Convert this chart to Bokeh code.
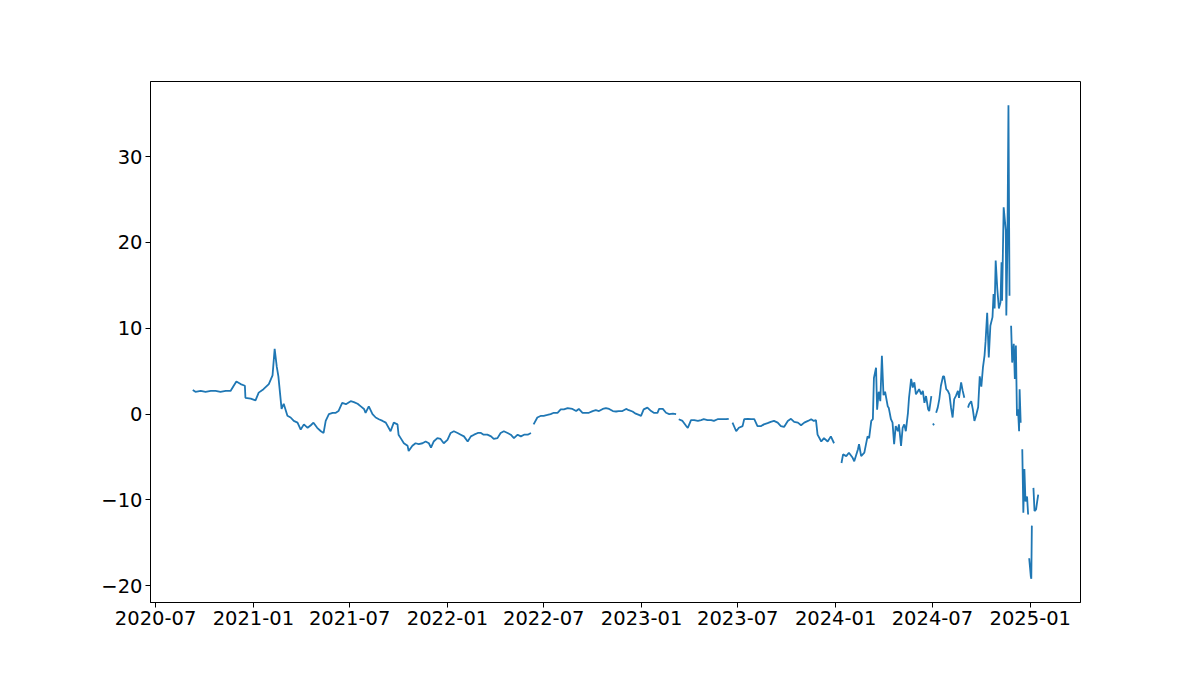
import numpy as np
import pandas as pd
from bokeh.plotting import figure
from bokeh.models import ColumnDataSource, FixedTicker, DatetimeTickFormatter, Range1d
from bokeh.embed import file_html
from bokeh.resources import INLINE

# ---- data (None = missing day, line gap) ----
dates = [
    "2020-09-09", "2020-09-14", "2020-09-24", "2020-10-03", "2020-10-13", "2020-10-22",
    "2020-10-31", "2020-11-10", "2020-11-19", "2020-11-25", "2020-11-30", "2020-12-08",
    "2020-12-16", "2020-12-17", "2020-12-27", "2021-01-05", "2021-01-11", "2021-01-20",
    "2021-01-30", "2021-02-06", "2021-02-10", "2021-02-14", "2021-02-17", "2021-02-23",
    "2021-02-27", "2021-03-06", "2021-03-12", "2021-03-18", "2021-03-25", "2021-03-31",
    "2021-04-06", "2021-04-13", "2021-04-19", "2021-04-24", "2021-05-01", "2021-05-08",
    "2021-05-13", "2021-05-17", "2021-05-23", "2021-05-30", "2021-06-05", "2021-06-10",
    "2021-06-17", "2021-06-24", "2021-07-03", "2021-07-09", "2021-07-16", "2021-07-22",
    "2021-07-28", "2021-07-31", "2021-08-06", "2021-08-13", "2021-08-19", "2021-08-25",
    "2021-09-01", "2021-09-07", "2021-09-16", "2021-09-22", "2021-09-29", "2021-10-01",
    "2021-10-05", "2021-10-11", "2021-10-18", "2021-10-20", "2021-10-27", "2021-11-02",
    "2021-11-08", "2021-11-15", "2021-11-21", "2021-11-27", "2021-12-01", "2021-12-06",
    "2021-12-13", "2021-12-19", "2021-12-25", "2022-01-01", "2022-01-07", "2022-01-13",
    "2022-01-20", "2022-01-26", "2022-02-01", "2022-02-08", "2022-02-14", "2022-02-20",
    "2022-02-27", "2022-03-05", "2022-03-10", "2022-03-17", "2022-03-24", "2022-03-29",
    "2022-04-05", "2022-04-11", "2022-04-17", "2022-04-24", "2022-04-30", "2022-05-06",
    "2022-05-13", "2022-05-19", "2022-05-25", "2022-06-01", "2022-06-07", "2022-06-09",
    "2022-06-12", "2022-06-19", "2022-06-26", "2022-07-01", "2022-07-08", "2022-07-14",
    "2022-07-20", "2022-07-27", "2022-08-02", "2022-08-08", "2022-08-15", "2022-08-24",
    "2022-08-31", "2022-09-05", "2022-09-12", "2022-09-18", "2022-09-24", "2022-10-01",
    "2022-10-07", "2022-10-13", "2022-10-20", "2022-10-26", "2022-11-01", "2022-11-08",
    "2022-11-14", "2022-11-19", "2022-11-26", "2022-12-03", "2022-12-08", "2022-12-15",
    "2022-12-21", "2022-12-27", "2022-12-31", "2023-01-05", "2023-01-12", "2023-01-19",
    "2023-01-24", "2023-01-31", "2023-02-03", "2023-02-10", "2023-02-16", "2023-02-22",
    "2023-03-01", "2023-03-07", "2023-03-09", "2023-03-12", "2023-03-19", "2023-03-26",
    "2023-03-29", "2023-04-04", "2023-04-10", "2023-04-17", "2023-04-23", "2023-04-28",
    "2023-05-05", "2023-05-12", "2023-05-17", "2023-05-24", "2023-06-03", "2023-06-09",
    "2023-06-14", "2023-06-17", "2023-06-21", "2023-06-28", "2023-07-03", "2023-07-10",
    "2023-07-13", "2023-07-20", "2023-07-26", "2023-08-01", "2023-08-07", "2023-08-14",
    "2023-08-19", "2023-08-26", "2023-09-01", "2023-09-07", "2023-09-14", "2023-09-20",
    "2023-09-26", "2023-10-03", "2023-10-09", "2023-10-15", "2023-10-22", "2023-10-28",
    "2023-11-03", "2023-11-10", "2023-11-16", "2023-11-21", "2023-11-25", "2023-11-28",
    "2023-12-05", "2023-12-10", "2023-12-17", "2023-12-23", "2023-12-29", "2024-01-04",
    "2024-01-12", "2024-01-15", "2024-01-21", "2024-01-26", "2024-02-02", "2024-02-05",
    "2024-02-12", "2024-02-14", "2024-02-18", "2024-02-24", "2024-03-01", "2024-03-04",
    "2024-03-08", "2024-03-11", "2024-03-13", "2024-03-17", "2024-03-19", "2024-03-22",
    "2024-03-25", "2024-03-28", "2024-03-31", "2024-04-03", "2024-04-08", "2024-04-10",
    "2024-04-14", "2024-04-17", "2024-04-20", "2024-04-23", "2024-04-27", "2024-04-29",
    "2024-05-03", "2024-05-06", "2024-05-09", "2024-05-12", "2024-05-16", "2024-05-18",
    "2024-05-22", "2024-05-25", "2024-05-28", "2024-05-31", "2024-06-04", "2024-06-06",
    "2024-06-10", "2024-06-13", "2024-06-16", "2024-06-19", "2024-06-23", "2024-06-25",
    "2024-06-29", "2024-07-01", "2024-07-02", "2024-07-04", "2024-07-06", "2024-07-08",
    "2024-07-11", "2024-07-14", "2024-07-17", "2024-07-21", "2024-07-23", "2024-07-27",
    "2024-07-30", "2024-08-02", "2024-08-05", "2024-08-08", "2024-08-11", "2024-08-14",
    "2024-08-18", "2024-08-20", "2024-08-24", "2024-08-27", "2024-08-30", "2024-09-01",
    "2024-09-06", "2024-09-08", "2024-09-12", "2024-09-15", "2024-09-18", "2024-09-21",
    "2024-09-25", "2024-09-28", "2024-10-01", "2024-10-04", "2024-10-07", "2024-10-09",
    "2024-10-12", "2024-10-15", "2024-10-18", "2024-10-22", "2024-10-24", "2024-10-26",
    "2024-10-28", "2024-10-31", "2024-11-03", "2024-11-06", "2024-11-08", "2024-11-09",
    "2024-11-12", "2024-11-16", "2024-11-17", "2024-11-19", "2024-11-21", "2024-11-23",
    "2024-11-25", "2024-11-26", "2024-11-28", "2024-12-01", "2024-12-03", "2024-12-05",
    "2024-12-07", "2024-12-09", "2024-12-11", "2024-12-12", "2024-12-14", "2024-12-15",
    "2024-12-17", "2024-12-19", "2024-12-21", "2024-12-23", "2024-12-26", "2024-12-28",
    "2024-12-29", "2024-12-30", "2025-01-02", "2025-01-03", "2025-01-04", "2025-01-05",
    "2025-01-07", "2025-01-09", "2025-01-12", "2025-01-14", "2025-01-16",
]

values = [
    2.8, 2.6, 2.7, 2.6, 2.7, 2.7,
    2.6, 2.7, 2.7, 3.3, 3.8, 3.5,
    3.3, 1.9, 1.8, 1.6, 2.5, 2.9,
    3.5, 4.5, 7.6, 5.5, 4.4, 0.6,
    1.2, -0.2, -0.4, -0.8, -1.0, -1.8,
    -1.2, -1.6, -1.3, -1.0, -1.6, -2.0,
    -2.2, -0.8, 0.0, 0.15, 0.15, 0.35,
    1.3, 1.15, 1.5, 1.4, 1.2, 0.9,
    0.6, 0.15, 0.9, 0.0, -0.4, -0.6,
    -0.8, -1.0, -2.0, -1.0, -1.2, -2.4,
    -2.8, -3.4, -3.7, -4.3, -3.7, -3.4,
    -3.5, -3.4, -3.2, -3.4, -3.9, -3.2,
    -2.8, -2.9, -3.4, -3.0, -2.2, -2.0,
    -2.2, -2.4, -2.6, -3.2, -2.6, -2.4,
    -2.2, -2.2, -2.4, -2.4, -2.6, -2.9,
    -2.8, -2.2, -2.0, -2.2, -2.4, -2.8,
    -2.4, -2.6, -2.4, -2.4, -2.2, None,
    -1.2, -0.4, -0.2, -0.2, -0.1, 0.0,
    0.15, 0.15, 0.55, 0.55, 0.7, 0.6,
    0.35, 0.6, 0.15, 0.15, 0.15, 0.35,
    0.45, 0.35, 0.6, 0.7, 0.6, 0.35,
    0.3, 0.35, 0.35, 0.6, 0.45, 0.3,
    0.05, -0.1, -0.2, 0.55, 0.75, 0.35,
    0.15, 0.15, 0.6, 0.6, 0.15, 0.0,
    0.05, 0.0, None, -0.6, -0.8, -1.4,
    -1.6, -0.7, -0.7, -0.8, -0.7, -0.6,
    -0.7, -0.7, -0.8, -0.6, -0.6, -0.6,
    -0.55, None, -1.0, -2.0, -1.6, -1.4,
    -0.6, -0.55, -0.6, -0.6, -1.4, -1.4,
    -1.2, -1.05, -0.9, -0.8, -1.0, -1.4,
    -1.5, -0.8, -0.55, -0.9, -1.0, -1.3,
    -1.0, -0.8, -0.6, -0.8, -0.7, -2.4,
    -3.2, -2.8, -3.2, -2.6, -3.4, None,
    -5.7, -4.7, -4.9, -4.5, -5.1, -5.5,
    -4.1, -3.5, -4.9, -4.5, -2.6, -2.8,
    -0.8, -0.6, 4.2, 5.4, 0.5, 2.6,
    1.5, 6.8, 2.2, 2.6, 0.9, 0.7,
    -0.6, -1.0, -3.5, -1.4, -2.0, -1.2,
    -3.7, -1.6, -1.2, -2.0, 0.15, 1.9,
    4.1, 3.1, 3.7, 2.3, 2.7, 2.9,
    2.3, 2.7, 1.3, 2.1, 0.55, 0.35,
    2.1, None, -1.1, -1.3, None, 0.15,
    0.75, 1.75, 3.3, 4.4, 4.4, 2.9,
    2.7, 2.3, 0.75, -0.4, 1.75, 2.1,
    2.7, 1.9, 3.7, 2.7, 1.9, None,
    0.75, 1.15, 1.5, 0.55, -0.8, -0.2,
    0.8, 4.4, 3.2, 5.4, 6.8, 8.5,
    11.8, 6.6, 10.3, 11.3, 14.0, 12.3,
    17.9, 14.6, 12.3, 13.0, 17.7, 13.2,
    24.1, 21.4, 11.5, 19.3, 36.0, 13.8,
    None, 10.3, 6.0, 8.2, 4.1, 8.0,
    -0.2, 0.55, -2.0, 2.9, -1.0, None,
    -4.1, -11.5, -6.4, -10.2, -9.6, -11.7,
    None, -16.8, -18.9, -19.2, -13.0, None,
    -8.6, -11.3, -11.1, -10.2, -9.4,
]

tick_labels = ["2020-07", "2021-01", "2021-07", "2022-01", "2022-07",
               "2023-01", "2023-07", "2024-01", "2024-07", "2025-01"]
y_ticks = [-20, -10, 0, 10, 20, 30]

# ---- build ----
x = pd.to_datetime(dates)
y = np.array([np.nan if v is None else v for v in values], dtype=float)
src = ColumnDataSource(dict(x=x, y=y))

# matplotlib-like 5% margins
xmin, xmax = x.min(), x.max()
xspan = xmax - xmin
x0 = xmin - 0.05 * xspan
x1 = xmax + 0.05 * xspan
ymin, ymax = np.nanmin(y), np.nanmax(y)
yspan = ymax - ymin

p = figure(width=1184, height=660, x_axis_type="datetime",
           output_backend="svg", toolbar_location=None,
           x_range=Range1d(x0, x1),
           y_range=Range1d(ymin - 0.05 * yspan, ymax + 0.05 * yspan),
           min_border_left=150, min_border_right=104,
           min_border_top=81, min_border_bottom=58)

p.line("x", "y", source=src, line_color="#1f77b4", line_width=1.8)

p.xgrid.visible = False
p.ygrid.visible = False
p.outline_line_color = "black"
p.outline_line_width = 1
p.background_fill_color = "white"
p.border_fill_color = "white"

tick_ms = [pd.Timestamp(t + "-01").value / 1e6 for t in tick_labels]
p.xaxis.ticker = FixedTicker(ticks=tick_ms)
fmt = "%Y-%m"
p.xaxis.formatter = DatetimeTickFormatter(
    milliseconds=fmt, seconds=fmt, minsec=fmt, minutes=fmt, hourmin=fmt,
    hours=fmt, days=fmt, months=fmt, years=fmt)
p.yaxis.ticker = FixedTicker(ticks=y_ticks)

for ax in (p.xaxis[0], p.yaxis[0]):
    ax.major_label_text_font = "DejaVu Sans"
    ax.major_label_text_font_size = "19.5px"
    ax.major_label_text_color = "black"
    ax.axis_line_color = "black"
    ax.axis_line_width = 1
    ax.major_tick_line_color = "black"
    ax.major_tick_line_width = 1
    ax.major_tick_out = 5
    ax.major_tick_in = 0
    ax.minor_tick_line_color = None
    ax.major_label_standoff = 3

with open("out.html", "w") as f:
    f.write(file_html(p, INLINE))
